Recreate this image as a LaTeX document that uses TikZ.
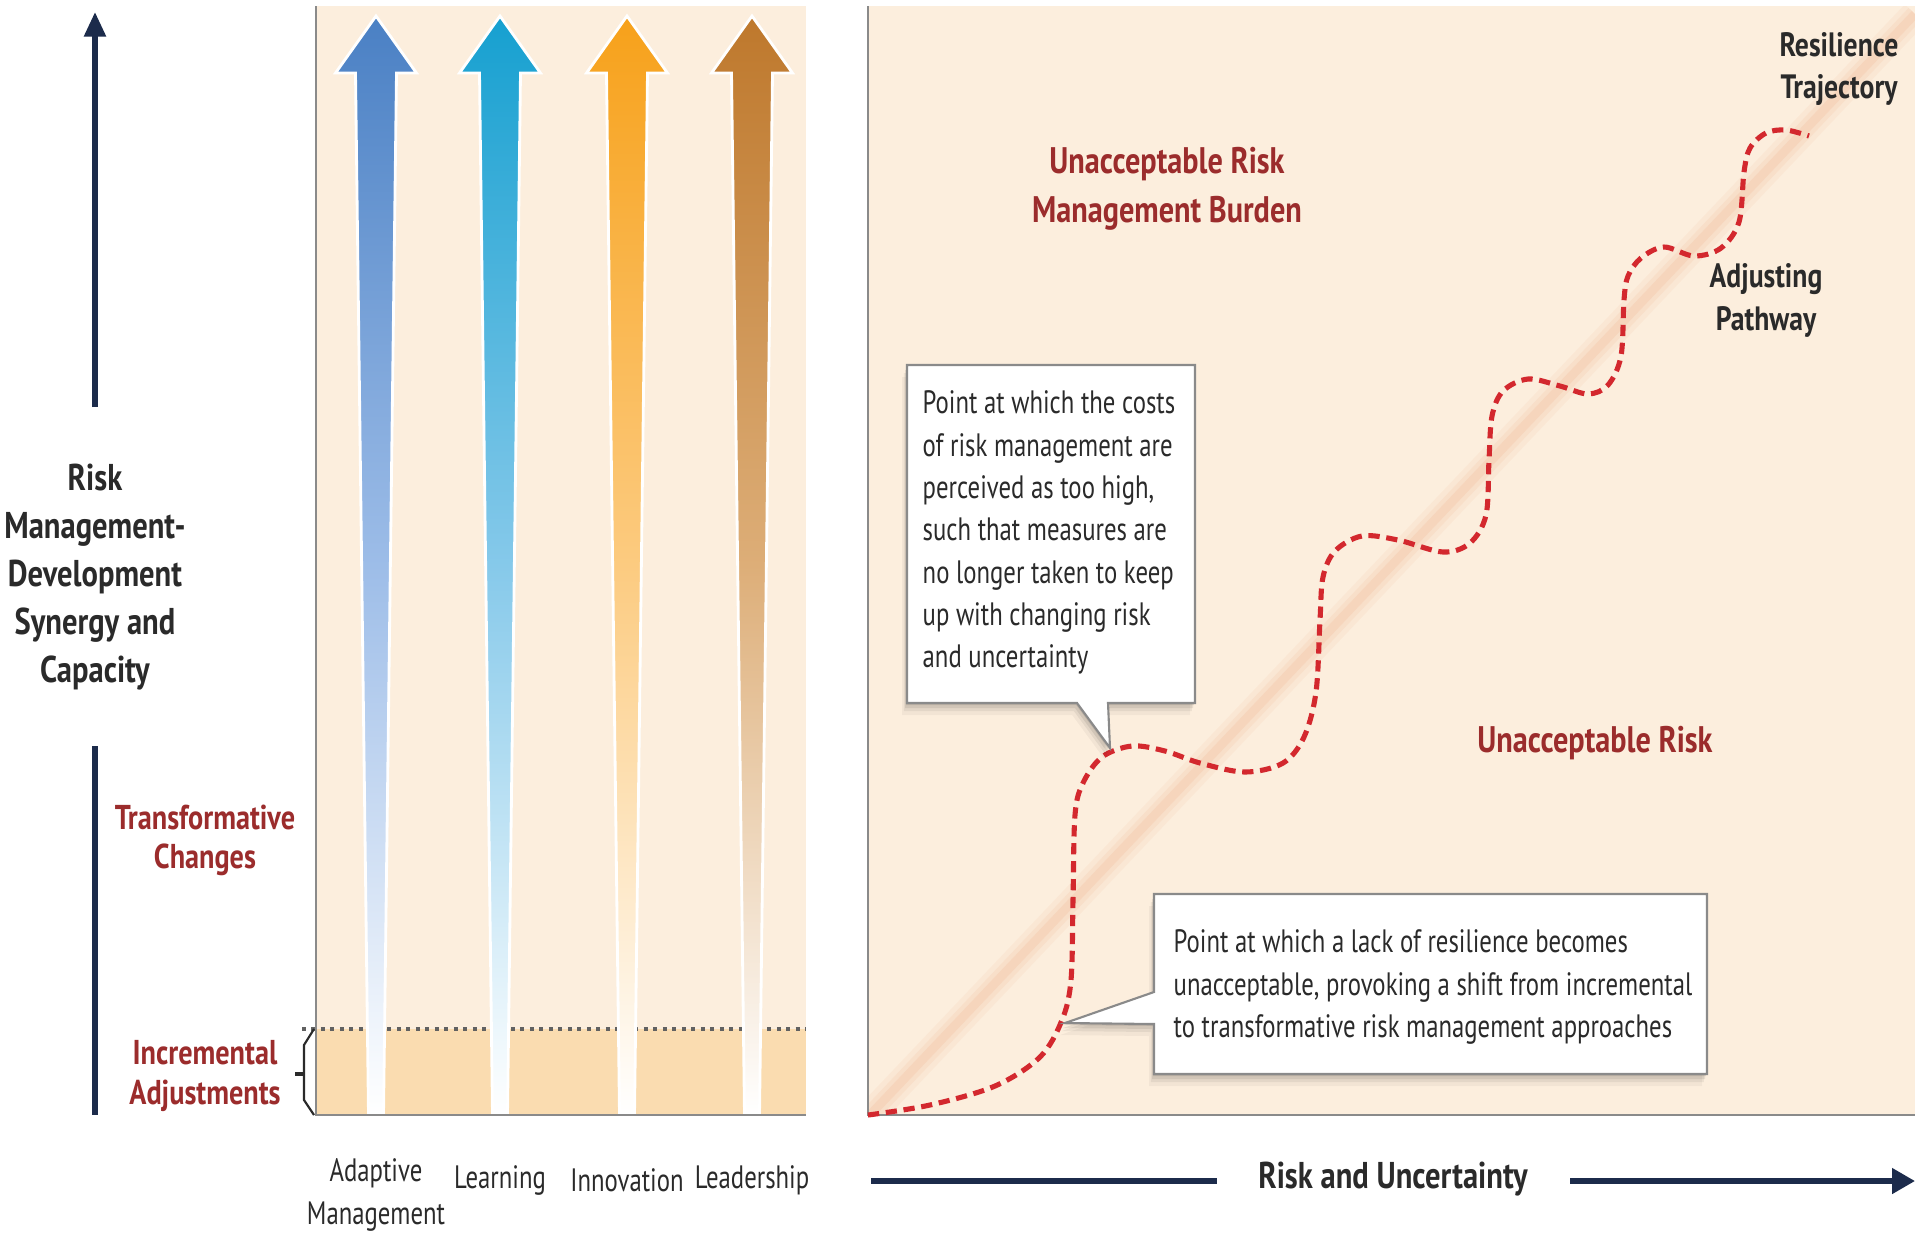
\documentclass[tikz,border=0pt]{standalone}
\usepackage{fontspec}
\setmainfont{PT Sans}[FakeStretch=0.765, BoldFeatures={FakeStretch=0.82}]
\usetikzlibrary{arrows.meta}
\definecolor{panelc}{HTML}{FCEEDD}
\definecolor{bandc}{HTML}{FADCB0}
\definecolor{bordergray}{HTML}{8A8A8A}
\definecolor{navy}{HTML}{1C2B4B}
\definecolor{redtxt}{HTML}{9B2C2C}
\definecolor{darktxt}{HTML}{2A2A2A}
\definecolor{dashred}{HTML}{D3282E}
\definecolor{trajc}{HTML}{F2B08C}
\definecolor{blueA}{HTML}{4A80C4}
\definecolor{blueAm}{HTML}{9DBDE8}
\definecolor{cyanA}{HTML}{16A0D0}
\definecolor{cyanAm}{HTML}{86C9EA}
\definecolor{orgA}{HTML}{F7A11A}
\definecolor{orgAm}{HTML}{FCCB80}
\definecolor{brnA}{HTML}{BE782C}
\definecolor{brnAm}{HTML}{DDAE78}
\newcommand{\capArrow}[4]{%
  \path[shade, top color=#3, bottom color=white, middle color=#4, draw=white, line width=0.8pt]
    (#2,16) -- ({#2+40.5},73) -- ({#2+20.5},73) -- ({#2+7.5},1115) -- ({#2-7.5},1115)
    -- ({#2-20.5},73) -- ({#2-40.5},73) -- cycle;
  \coordinate (#1) at (#2,1115);}
\newcommand{\calloutA}[1]{\path[#1] (907,365) -- (1195,365) -- (1195,703) -- (1108,703)
    -- (1110,748) -- (1077,703) -- (907,703) -- cycle;}
\newcommand{\calloutB}[1]{\path[#1] (1154,894) -- (1707,894) -- (1707,1074) -- (1154,1074)
    -- (1154,1024) -- (1065,1023) -- (1154,992) -- cycle;}
\begin{document}
\begin{tikzpicture}[x=0.01cm,y=-0.01cm,
  lbl/.style={font=\fontsize{9.2}{12.1}\selectfont, text=darktxt, inner sep=0pt, align=center},
  boxtxt/.style={font=\fontsize{9.2}{12.05}\selectfont, text=darktxt, inner sep=0pt, align=left},
  hdr/.style={font=\bfseries\fontsize{10.5}{13.7}\selectfont, text=darktxt, inner sep=0pt, align=center},
  redhdr/.style={font=\bfseries\fontsize{10.5}{13.9}\selectfont, text=redtxt, inner sep=0pt, align=center},
  panelborder/.style={draw=bordergray, line width=0.8pt},
  axisline/.style={draw=navy, line width=1.5pt},
  dashcurve/.style={draw=dashred, line width=1.45pt, dash pattern=on 3.2pt off 1.9pt},
  calloutfill/.style={fill=white, draw=bordergray, line width=0.6pt}]
\useasboundingbox (0,0) rectangle (1915,1235);
\fill[white] (0,0) rectangle (1915,1235);

% ---------- left panel ----------
\fill[panelc] (316,6) rectangle (806,1115);
\fill[bandc] (316,1029) rectangle (806,1115);
\draw[bordergray!70!black, line width=0.9pt, dash pattern=on 1.1pt off 1.6pt] (302,1029) -- (806,1029);
\capArrow{a1}{376}{blueA}{blueAm}
\capArrow{a2}{500}{cyanA}{cyanAm}
\capArrow{a3}{627}{orgA}{orgAm}
\capArrow{a4}{752}{brnA}{brnAm}
\draw[panelborder] (316,6) -- (316,1115) -- (806,1115);
% brace
\draw[darktxt, line width=0.6pt] (314,1029) -- (304,1045) -- (304,1100) -- (314,1115);
\draw[darktxt, line width=1.2pt] (304,1074) -- (295,1074);

% left labels
\coordinate (ytop) at (95,12);
\coordinate (yup) at (95,407);
\coordinate (ylow1) at (95,746);
\coordinate (ylow2) at (95,1115);
\draw[axisline, -{Triangle[length=7pt, width=6pt]}] (yup) -- (ytop);
\draw[axisline] (ylow1) -- (ylow2);
\node[hdr, font=\bfseries\fontsize{10.6}{13.65}\selectfont] (ylab) at (95,577) {Risk\\Management-\\Development\\Synergy and\\Capacity};
\node[redhdr, font=\bfseries\fontsize{9.8}{11.1}\selectfont] (trans) at (205,840) {Transformative\\Changes};
\node[redhdr, font=\bfseries\fontsize{9.8}{11.4}\selectfont] (incr) at (205,1076) {Incremental\\Adjustments};

\node[lbl] (am) at (376,1195) {Adaptive\\Management};
\node[lbl] (lr) at (500,1180) {Learning};
\node[lbl] (inn) at (627,1180) {Innovation};
\node[lbl] (ld) at (752,1180) {Leadership};

% ---------- right panel ----------
\fill[panelc] (868,6) rectangle (1915,1115);
\begin{scope}
  \clip (868,6) rectangle (1915,1115);
  \coordinate (t0) at (868,1117);
  \coordinate (t1) at (1915,14);
  \draw[trajc, line width=8pt, opacity=0.1] (t0) -- (t1);
  \draw[trajc, line width=5pt, opacity=0.14] (t0) -- (t1);
  \draw[trajc, line width=2.5pt, opacity=0.2] (t0) -- (t1);
\end{scope}
\draw[panelborder] (868,6) -- (868,1115) -- (1915,1115);

% dashed adjusting pathway
\draw[dashcurve] plot[smooth, tension=0.55] coordinates {
 (868,1115) (930,1105) (995,1086) (1040,1057) (1062,1020) (1071,980) (1073,900) (1075,815)
 (1083,783) (1102,757) (1132,746) (1165,751) (1200,763) (1245,772) (1283,763) (1304,737)
 (1316,692) (1320,620) (1323,577) (1335,551) (1362,536) (1398,540) (1443,552) (1470,543)
 (1486,515) (1489,460) (1492,416) (1503,391) (1528,379) (1560,386) (1588,394) (1608,385)
 (1621,356) (1624,300) (1628,276) (1641,258) (1664,247) (1694,256) (1721,248) (1739,222)
 (1744,172) (1750,148) (1766,133) (1786,130) (1809,136)};

% callouts
\foreach \s/\o in {12/0.04, 8/0.06, 5/0.08, 2/0.1} {
  \calloutA{fill=black, opacity=\o, shift={(-\s*0.4,\s)}}
  \calloutB{fill=black, opacity=\o, shift={(-\s*0.4,\s)}}
}
\calloutA{calloutfill}
\calloutB{calloutfill}
\node[boxtxt, anchor=north west] (c1) at (922,390) {Point at which the costs\\of risk management are\\perceived as too high,\\such that measures are\\no longer taken to keep\\up with changing risk\\and uncertainty};
\node[boxtxt, anchor=north west] (c2) at (1173,929) {Point at which a lack of resilience becomes\\unacceptable, provoking a shift from incremental\\to transformative risk management approaches};

% right labels
\node[redhdr] (burden) at (1167,189) {Unacceptable Risk\\Management Burden};
\node[redhdr] (ur) at (1595,743) {Unacceptable Risk};
\node[hdr, font=\bfseries\fontsize{9.6}{12.2}\selectfont] (rt) at (1839,69) {Resilience\\Trajectory};
\node[hdr, font=\bfseries\fontsize{9.6}{12.2}\selectfont] (ap) at (1766,300) {Adjusting\\Pathway};

% bottom axis
\node[hdr, font=\bfseries\fontsize{10.6}{13}\selectfont] (xlab) at (1393,1179) {Risk and Uncertainty};
\coordinate (xl) at (871,1181);
\coordinate (xlend) at (1217,1181);
\coordinate (xrstart) at (1570,1181);
\coordinate (xr) at (1915,1181);
\draw[axisline] (xl) -- (xlend);
\draw[axisline, -{Triangle[length=6.5pt, width=7pt]}] (xrstart) -- (xr);
\end{tikzpicture}
\end{document}
